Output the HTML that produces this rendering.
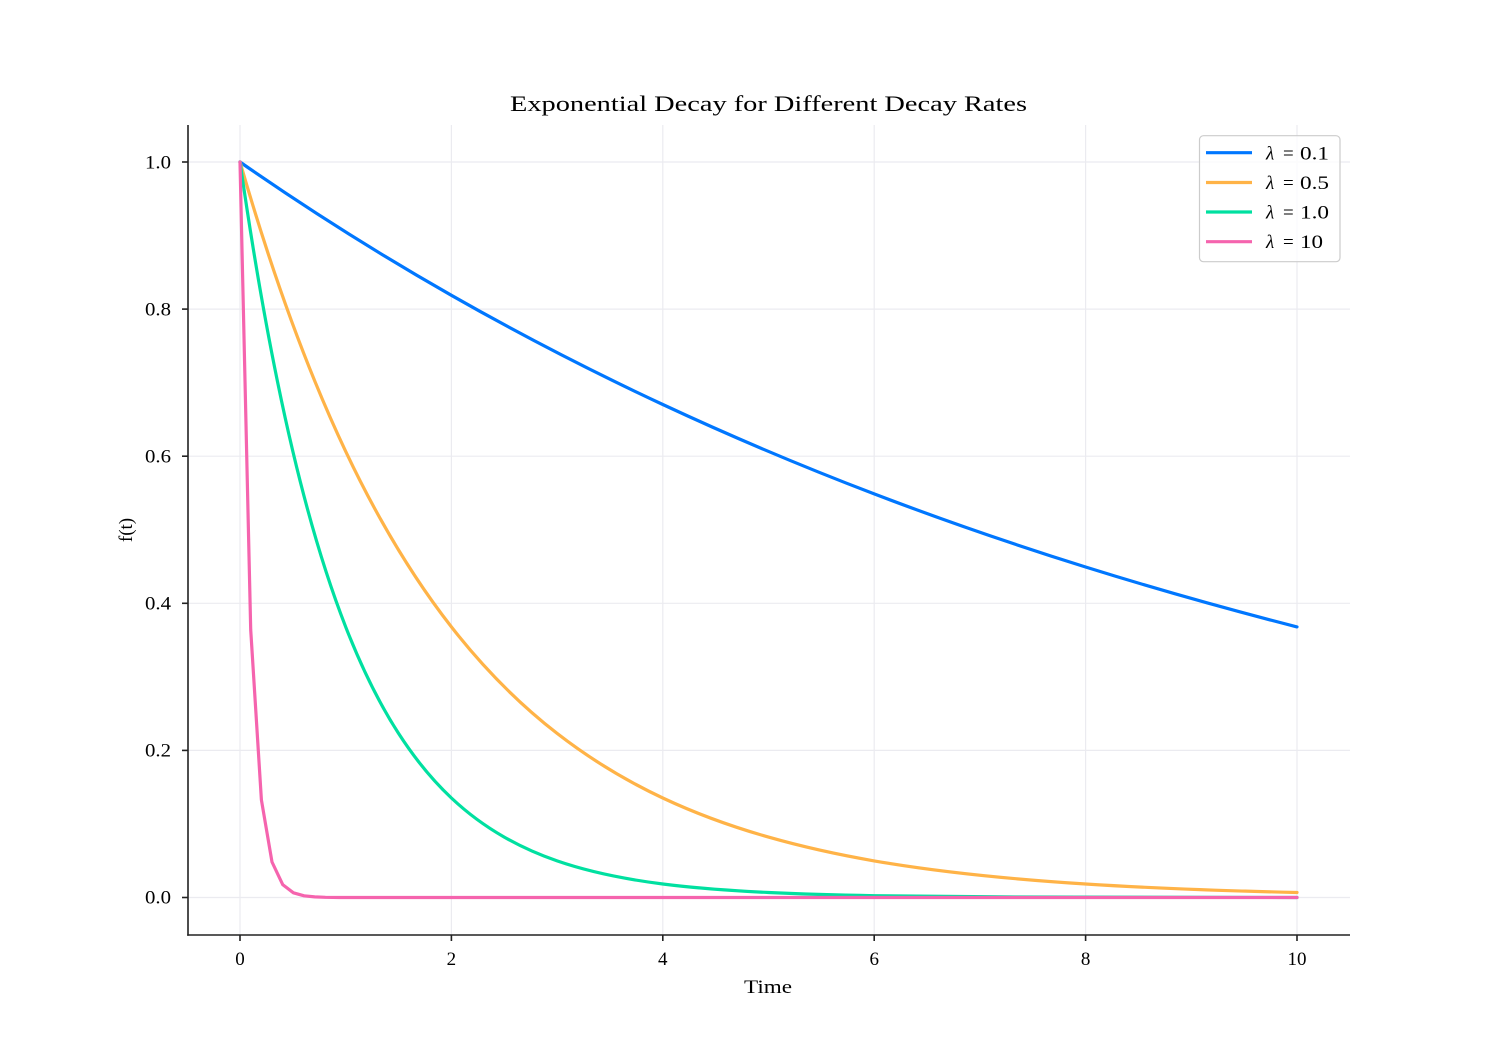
<!DOCTYPE html>
<html><head><meta charset="utf-8"><style>
html,body{margin:0;padding:0;background:#fff;}
svg{display:block;}
text{font-family:"Liberation Serif","DejaVu Serif",serif;fill:#000;}
</style></head><body>
<svg width="1500" height="1050" viewBox="0 0 1500 1050" xmlns="http://www.w3.org/2000/svg">
<rect width="1500" height="1050" fill="#fff"/>
<!-- grid -->
<g stroke="#ebebf0" stroke-width="1.2" fill="none">
<line x1="240" y1="125" x2="240" y2="935"/>
<line x1="451.4" y1="125" x2="451.4" y2="935"/>
<line x1="662.8" y1="125" x2="662.8" y2="935"/>
<line x1="874.2" y1="125" x2="874.2" y2="935"/>
<line x1="1085.6" y1="125" x2="1085.6" y2="935"/>
<line x1="1297" y1="125" x2="1297" y2="935"/>
<line x1="188" y1="162" x2="1350" y2="162"/>
<line x1="188" y1="309.1" x2="1350" y2="309.1"/>
<line x1="188" y1="456.2" x2="1350" y2="456.2"/>
<line x1="188" y1="603.3" x2="1350" y2="603.3"/>
<line x1="188" y1="750.4" x2="1350" y2="750.4"/>
<line x1="188" y1="897.5" x2="1350" y2="897.5"/>
</g>
<!-- series -->
<g fill="none" stroke-width="3.2" stroke-linejoin="round" stroke-linecap="round">
<path stroke="#0077ff" d="M240,162 C310.47,211.03 380.93,255.16 451.4,295.3 C521.87,335.44 592.33,371.63 662.8,404.5 C733.27,437.37 803.73,466.99 874.2,493.9 C944.67,520.81 1015.13,544.97 1085.6,567 C1156.07,589.03 1226.53,608.86 1297,626.9"/>
<path stroke="#ffb347" d="M240,162 C275.23,284.58 310.47,377.05 345.7,451.4 C380.93,525.75 416.17,581.8 451.4,626.9 C486.63,672 521.87,706.05 557.1,733.4 C592.33,760.75 627.57,781.41 662.8,798 C698.03,814.59 733.27,827.04 768.5,837.1 C803.73,847.16 838.97,854.8 874.2,860.9 C944.67,873.11 1015.13,879.51 1085.6,884 C1156.07,888.49 1226.53,890.85 1297,892.5"/>
<path stroke="#00e0a0" d="M240,162 C257.62,284.58 275.23,377.05 292.85,451.4 C310.47,525.75 328.08,581.8 345.7,626.9 C363.32,672 380.93,706.05 398.55,733.4 C416.17,760.75 433.78,781.41 451.4,798 C469.02,814.59 486.63,827.04 504.25,837.1 C521.87,847.16 539.48,854.8 557.1,860.9 C592.33,873.11 627.57,879.51 662.8,884 C698.03,888.49 733.27,890.85 768.5,892.5 C803.73,894.15 838.97,895.09 874.2,895.7 C1015.13,897.5 1155.07,897.45 1297,897.47"/>
<polyline stroke="#f564ae" points="240,162 250.7,629.6 261.4,799.9 272,862 282.7,884.6 293.4,892.8 304.1,895.8 314.7,896.9 325.4,897.3 340,897.5 1297,897.5"/>
</g>
<!-- spines -->
<g stroke="#222" stroke-width="1.6" fill="none">
<line x1="188" y1="125" x2="188" y2="935.8"/>
<line x1="187.2" y1="935" x2="1350" y2="935"/>
</g>
<!-- ticks -->
<g stroke="#222" stroke-width="1.6">
<line x1="240" y1="935" x2="240" y2="941"/>
<line x1="451.4" y1="935" x2="451.4" y2="941"/>
<line x1="662.8" y1="935" x2="662.8" y2="941"/>
<line x1="874.2" y1="935" x2="874.2" y2="941"/>
<line x1="1085.6" y1="935" x2="1085.6" y2="941"/>
<line x1="1297" y1="935" x2="1297" y2="941"/>
<line x1="182" y1="162" x2="188" y2="162"/>
<line x1="182" y1="309.1" x2="188" y2="309.1"/>
<line x1="182" y1="456.2" x2="188" y2="456.2"/>
<line x1="182" y1="603.3" x2="188" y2="603.3"/>
<line x1="182" y1="750.4" x2="188" y2="750.4"/>
<line x1="182" y1="897.5" x2="188" y2="897.5"/>
</g>
<!-- tick labels -->
<g font-size="19" text-anchor="middle">
<text x="240" y="965">0</text>
<text x="451.4" y="965">2</text>
<text x="662.8" y="965">4</text>
<text x="874.2" y="965">6</text>
<text x="1085.6" y="965">8</text>
<text x="1297" y="965">10</text>
</g>
<g font-size="19">
<text x="145" y="168.5" textLength="26" lengthAdjust="spacingAndGlyphs">1.0</text>
<text x="145" y="315.5" textLength="26" lengthAdjust="spacingAndGlyphs">0.8</text>
<text x="145" y="462.5" textLength="26" lengthAdjust="spacingAndGlyphs">0.6</text>
<text x="145" y="609.5" textLength="26" lengthAdjust="spacingAndGlyphs">0.4</text>
<text x="145" y="756.5" textLength="26" lengthAdjust="spacingAndGlyphs">0.2</text>
<text x="145" y="903.5" textLength="26" lengthAdjust="spacingAndGlyphs">0.0</text>
</g>
<!-- axis labels and title -->
<text x="768" y="993" font-size="19" text-anchor="middle" textLength="48" lengthAdjust="spacingAndGlyphs">Time</text>
<text x="0" y="0" font-size="19" text-anchor="middle" transform="translate(132,530) rotate(-90)">f(t)</text>
<text x="768.5" y="111" font-size="22" text-anchor="middle" textLength="517" lengthAdjust="spacingAndGlyphs">Exponential Decay for Different Decay Rates</text>
<!-- legend -->
<rect x="1199.5" y="135.7" width="140.5" height="126" rx="4" ry="4" fill="#fff" fill-opacity="0.8" stroke="#cccccc" stroke-width="1.2"/>
<g stroke-width="3.2">
<line x1="1206" y1="152.7" x2="1252" y2="152.7" stroke="#0077ff"/>
<line x1="1206" y1="182.5" x2="1252" y2="182.5" stroke="#ffb347"/>
<line x1="1206" y1="212" x2="1252" y2="212" stroke="#00e0a0"/>
<line x1="1206" y1="241.7" x2="1252" y2="241.7" stroke="#f564ae"/>
</g>
<g font-size="19">
<text y="159.5"><tspan x="1266" font-style="italic">λ</tspan><tspan x="1283">=</tspan></text>
<text x="1300" y="159.5" textLength="29" lengthAdjust="spacingAndGlyphs">0.1</text>
<text y="189"><tspan x="1266" font-style="italic">λ</tspan><tspan x="1283">=</tspan></text>
<text x="1300" y="189" textLength="29" lengthAdjust="spacingAndGlyphs">0.5</text>
<text y="218.5"><tspan x="1266" font-style="italic">λ</tspan><tspan x="1283">=</tspan></text>
<text x="1300" y="218.5" textLength="29" lengthAdjust="spacingAndGlyphs">1.0</text>
<text y="248"><tspan x="1266" font-style="italic">λ</tspan><tspan x="1283">=</tspan></text>
<text x="1300" y="248" textLength="23" lengthAdjust="spacingAndGlyphs">10</text>
</g>
</svg>
</body></html>
